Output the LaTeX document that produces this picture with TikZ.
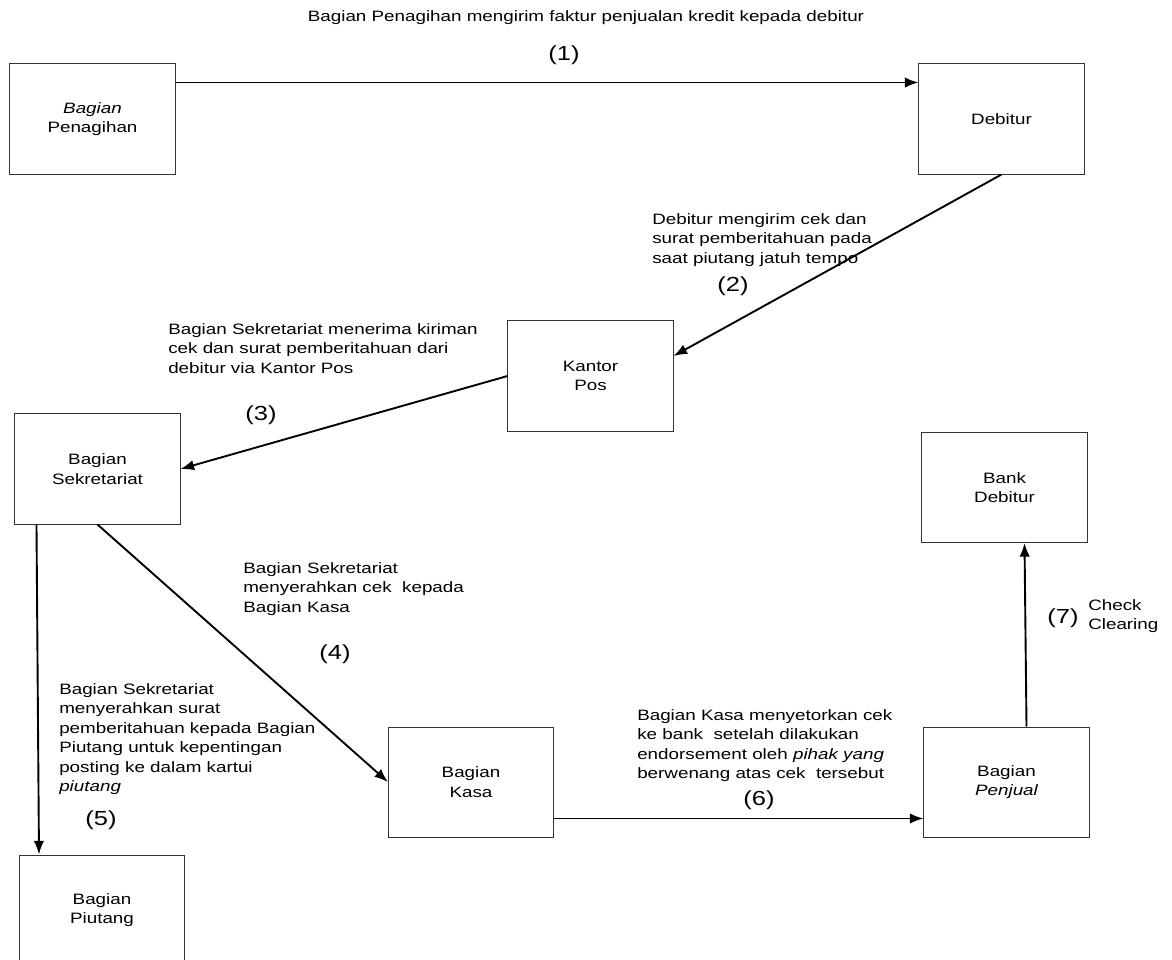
\documentclass[tikz,border=0pt]{standalone}
\usepackage{fontspec}
\setmainfont{Liberation Sans}[FakeStretch=1.25]
\usetikzlibrary{arrows.meta}

\tikzset{
    box/.style={draw=black!80, line width=0.7pt, minimum width=4.125cm, minimum height=2.75cm,
        inner sep=0pt, align=center, font=\fontsize{10.7pt}{13.9pt}\selectfont},
    note/.style={anchor=north west, inner sep=0pt, align=left,
        font=\fontsize{10.7pt}{13.9pt}\selectfont},
    num/.style={inner sep=0pt, font=\fontsize{14.5pt}{16pt}\selectfont},
    flow/.style={line width=1.35pt, -{Latex[length=3.4mm,width=2.6mm]}}
}

\begin{document}
\begin{tikzpicture}[x=0.025cm, y=-0.025cm]
            \useasboundingbox (0,0) rectangle (1172,960);
            % boxes
            \node[box] (pen) at (92.5,119) {\itshape Bagian\\Penagihan};
            \node[box] (deb) at (1001.5,119) {Debitur};
            \node[box] (kpos) at (590.5,376) {Kantor\\Pos};
            \node[box] (sek) at (97.5,469) {Bagian\\Sekretariat};
            \node[box] (bank) at (1004.5,487.5) {Bank\\Debitur};
            \node[box] (kasa) at (471,782) {Bagian\\Kasa};
            \node[box] (pj) at (1006.5,782) {Bagian\\\itshape Penjual};
            \node[box] (piu) at (102,910) {Bagian\\Piutang};

            % labels
            \node[inner sep=0pt, font=\fontsize{10.7pt}{13.9pt}\selectfont] (l1) at (586,18)
                {Bagian Penagihan mengirim faktur penjualan kredit kepada debitur};
            \node[num] (n1) at (564,55) {(1)};
            \node[note] (l2) at (652,213) {Debitur mengirim cek dan\\surat pemberitahuan pada\\saat piutang jatuh tempo};
            \node[num] (n2) at (733,286) {(2)};
            \node[note] (l3) at (168,323) {Bagian Sekretariat menerima kiriman\\cek dan surat pemberitahuan dari\\debitur via Kantor Pos};
            \node[num] (n3) at (261,415) {(3)};
            \node[note] (l4) at (243,562) {Bagian Sekretariat\\menyerahkan cek\ \ kepada\\Bagian Kasa};
            \node[num] (n4) at (335,654) {(4)};
            \node[note] (l5) at (59,683) {Bagian Sekretariat\\menyerahkan surat\\pemberitahuan kepada Bagian\\Piutang untuk kepentingan\\posting ke dalam kartui\\\textit{piutang}};
            \node[num] (n5) at (101,820) {(5)};
            \node[note] (l6) at (637,709) {Bagian Kasa menyetorkan cek\\ke bank\ \ setelah dilakukan\\endorsement oleh \textit{pihak yang}\\berwenang atas cek\ \ tersebut};
            \node[num] (n6) at (759,800) {(6)};
            \node[num] (n7) at (1063,618) {(7)};
            \node[note] (l7) at (1088,599) {Check\\Clearing};

            % flows
            \draw[flow] ([yshift=-0.475cm]pen.north east) -- ([yshift=-0.475cm]deb.north west);
            \draw[flow] (deb.south) -- ([yshift=0.5cm]kpos.east);
            \draw[flow] (kpos.west) -- (sek.east);
            \draw[flow] (sek.south) -- (kasa.west);
            \draw[flow] ([xshift=0.55cm]sek.south west) -- ([xshift=0.5cm]piu.north west);
            \draw[flow] ([yshift=0.475cm]kasa.south east) -- ([yshift=0.475cm]pj.south west);
            \draw[flow] ([xshift=0.5cm]pj.north) -- ([xshift=0.5cm]bank.south);
\end{tikzpicture}
\end{document}
